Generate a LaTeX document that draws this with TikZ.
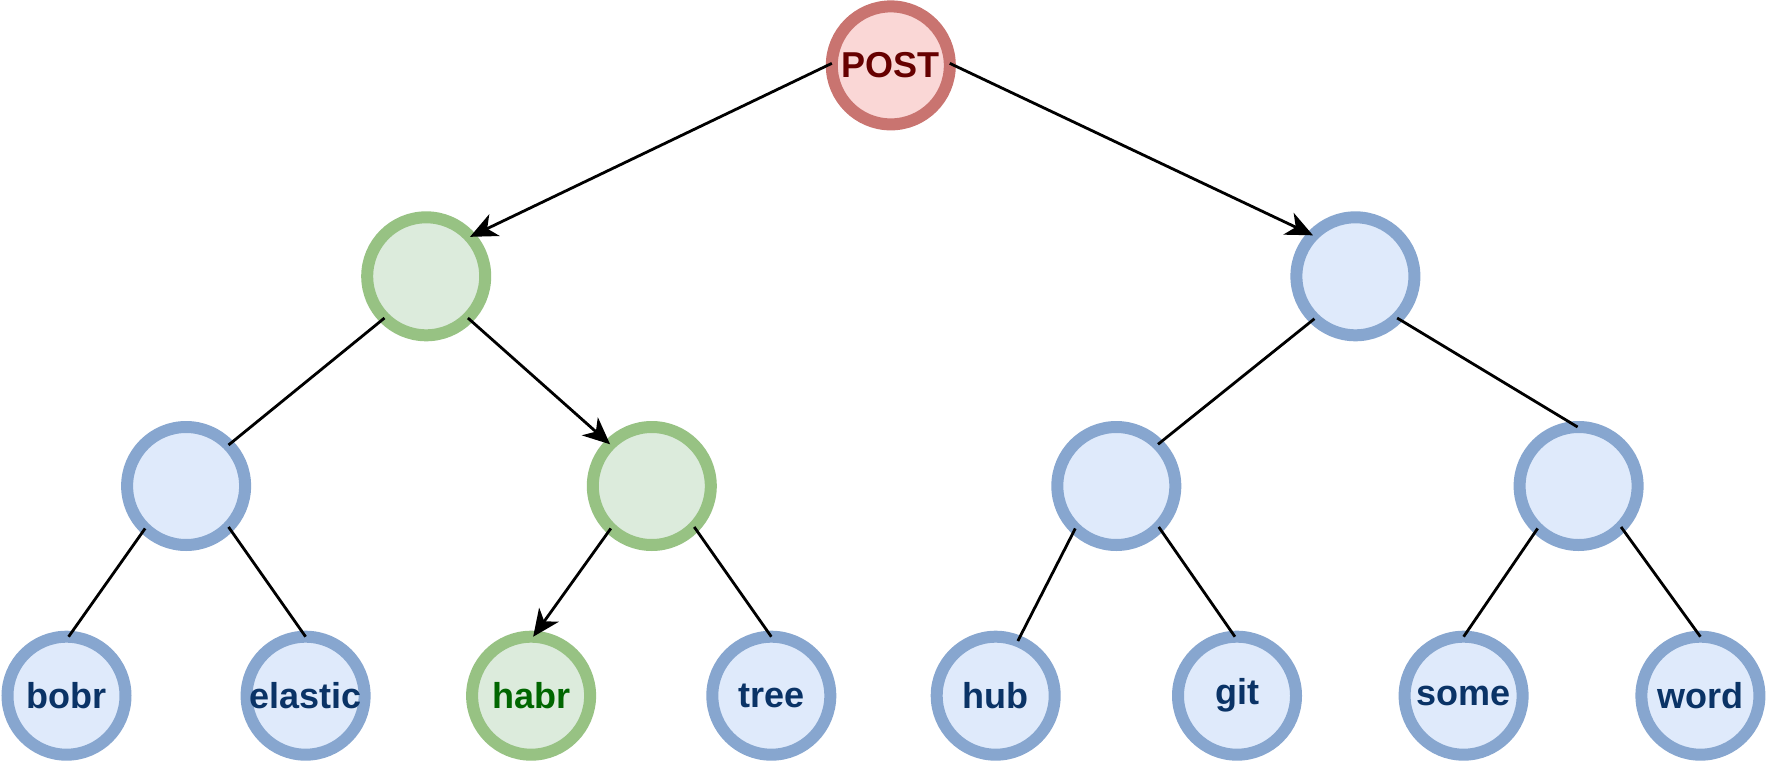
\documentclass[tikz,border=0pt]{standalone}
\usepackage{fontspec}
\setmainfont{Liberation Sans}
\usetikzlibrary{arrows.meta}
\definecolor{bfill}{HTML}{DFEAFB}
\definecolor{bdraw}{HTML}{87A6CF}
\definecolor{btext}{HTML}{0A3366}
\definecolor{gfill}{HTML}{DCEBDC}
\definecolor{gdraw}{HTML}{97C283}
\definecolor{gtext}{HTML}{006600}
\definecolor{rfill}{HTML}{FAD7D6}
\definecolor{rdraw}{HTML}{C97470}
\definecolor{rtext}{HTML}{660000}
\tikzset{
  tn/.style={circle, minimum size=118pt, inner sep=0pt, outer sep=0pt, line width=12pt,
    font=\fontsize{36}{40}\selectfont\bfseries},
  bn/.style={tn, draw=bdraw, fill=bfill, text=btext},
  gn/.style={tn, draw=gdraw, fill=gfill, text=gtext},
  rn/.style={tn, draw=rdraw, fill=rfill, text=rtext},
  edge/.style={line width=2.8pt, draw=black},
  aedge/.style={edge, -{Stealth[length=27pt, width=24pt, inset=8pt]}}
}
\begin{document}
\begin{tikzpicture}[x=1pt, y=-1pt]
\useasboundingbox (0,0) rectangle (1768,762);
\node[rn] (root) at (890.8,65.4) {POST};
\node[gn] (la) at (426.2,276.3) {};
\node[bn] (lb) at (1355.4,276.3) {};
\node[bn] (ma) at (186.1,486) {};
\node[gn] (mb) at (651.8,486) {};
\node[bn] (mc) at (1116.3,486) {};
\node[bn] (md) at (1578.6,486) {};
\node[bn] (bobr) at (66.5,695.7) {bobr};
\node[bn] (elastic) at (305.6,695.7) {elastic};
\node[gn] (habr) at (531.1,695.7) {habr};
\node[bn] (tree) at (771.3,695.7) {tree};
\node[bn] (hub) at (995.7,695.7) {hub};
\node[bn] (git) at (1237,695.7) {git};
\node[bn] (some) at (1463.6,695.7) {some};
\node[bn] (word) at (1700.4,695.7) {word};
\draw[aedge] (root.178) -- (la.42);
\draw[aedge] (root.2) -- (lb.136);
\draw[edge] (la.225) -- (ma.44);
\draw[aedge] (la.315) -- (mb.135);
\draw[edge] (ma.226) -- (bobr.88);
\draw[edge] (ma.316) -- (elastic.90);
\draw[aedge] (mb.226) -- (habr.88);
\draw[edge] (mb.316) -- (tree.90);
\draw[edge] (lb.226) -- (mc.45);
\draw[edge] (lb.315) -- (md.91);
\draw[edge] (mc.226) -- (hub.68);
\draw[edge] (mc.316) -- (git.92);
\draw[edge] (md.226) -- (some.90);
\draw[edge] (md.316) -- (word.90);
\end{tikzpicture}
\end{document}
